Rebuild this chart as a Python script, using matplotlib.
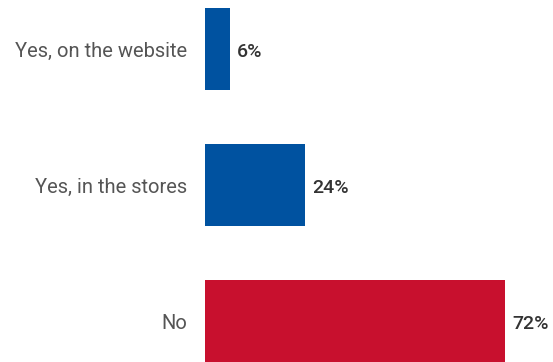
import matplotlib.pyplot as plt

categories = ["Yes, on the website", "Yes, in the stores", "No"]
values = [6, 24, 72]
colors = ["#0052a0", "#0052a0", "#c8102e"]

plt.rcParams['font.family'] = ['Roboto', 'DejaVu Sans']

fig = plt.figure(figsize=(5.53, 3.62), dpi=100)
ax = fig.add_axes([205 / 553, 0, 348 / 553, 1])

pos = list(range(len(categories)))
bars = ax.barh(pos, values, height=0.6, color=colors)

ax.set_xlim(0, 83.5)
ax.set_ylim(2.30, -0.36)
ax.set_yticks(pos)
ax.set_yticklabels(categories, fontsize=14.5, color="#555555")
ax.tick_params(axis='y', length=0, pad=13)
ax.set_xticks([])
for s in ax.spines.values():
    s.set_visible(False)

for b, v in zip(bars, values):
    ax.annotate(f"{v}%", (b.get_width(), b.get_y() + b.get_height() / 2),
                xytext=(5, -2), textcoords="offset points",
                va="center", ha="left", fontsize=14, fontweight="medium",
                color="#333333")

fig.savefig("out.png", dpi=100)
